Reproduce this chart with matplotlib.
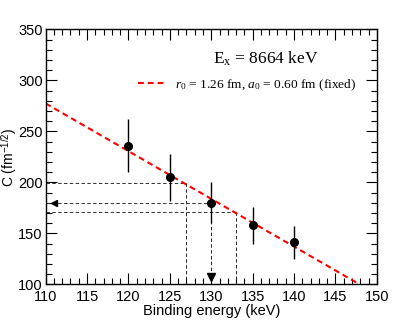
import matplotlib
matplotlib.use("Agg")
import matplotlib.pyplot as plt
from matplotlib.ticker import MultipleLocator

# Data
binding = [120, 125, 130, 135, 140]
anc = [236, 205, 180, 158, 141]
anc_err = [26, 23, 20, 18, 16]

fit_x = [110, 147.9]
fit_y = [277.4, 100]

# construction lines: (x_start, y_value, x_end)
h_lines = [(110, 199, 127), (110, 180, 130), (110, 171, 133)]
v_lines = [(127, 199, 100), (130, 180, 107), (133, 171, 100)]
arrow_left = (111, 180)
arrow_down = (130, 107)

plt.rcParams['font.family'] = ['Liberation Sans', 'DejaVu Sans']
plt.rcParams['mathtext.fontset'] = 'custom'
plt.rcParams['mathtext.rm'] = 'Liberation Serif'
plt.rcParams['mathtext.it'] = 'Liberation Serif:italic'
plt.rcParams['mathtext.sf'] = 'Liberation Sans'

fig = plt.figure(figsize=(4.15, 3.2), dpi=100)
ax = fig.add_axes([0.110, 0.1116, 0.798, 0.7964])

ax.set_xlim(110, 150)
ax.set_ylim(100, 350)

for x0, y, x1 in h_lines:
    ax.plot([x0, x1], [y, y], color='#333333', lw=0.7, dashes=(3.5, 2.5))
for x, y0, y1 in v_lines:
    ax.plot([x, x], [y0, y1], color='#222222', lw=0.7, dashes=(3.5, 2.5))
ax.plot([arrow_left[0]], [arrow_left[1]], marker='<', color='black', ms=4, lw=0)
ax.plot([arrow_down[0]], [arrow_down[1]], marker='v', color='black', ms=5.5, lw=0)

line, = ax.plot(fit_x, fit_y, color='#ff0000', lw=1.5, dashes=(2.8, 1.9),
                label=r'$r_0$ = 1.26 fm, $a_0$ = 0.60 fm (fixed)')

ax.errorbar(binding, anc, yerr=anc_err, fmt='o', color='black', ms=5.5,
            elinewidth=1.0, capsize=0, zorder=5)

ax.xaxis.set_major_locator(MultipleLocator(5))
ax.xaxis.set_minor_locator(MultipleLocator(1))
ax.yaxis.set_major_locator(MultipleLocator(50))
ax.yaxis.set_minor_locator(MultipleLocator(10))
ax.tick_params(which='both', direction='in', top=True, right=True, width=0.8,
               labelsize=10.5)
ax.tick_params(which='major', length=8)
ax.tick_params(which='minor', length=4)
ax.tick_params(axis='x', pad=4)
ax.tick_params(axis='y', pad=2)
for s in ax.spines.values():
    s.set_linewidth(1.0)

ax.set_xlabel('Binding energy (keV)', fontsize=10.5, labelpad=0)
ax.set_ylabel(r'C (fm$^{\mathsf{-1/2}}$)', fontsize=10)
ax.yaxis.set_label_coords(-0.076, 0.5)

ax.text(0.665, 0.883, r'E$_{\mathrm{x}}$ = 8664 keV', transform=ax.transAxes,
        ha='center', va='center', fontsize=12.5, family='Liberation Serif')
leg = ax.legend(handles=[line], loc='upper right', bbox_to_anchor=(0.975, 0.86),
                frameon=False, handlelength=2.2, handletextpad=0.6,
                prop={'family': 'Liberation Serif', 'size': 9.6})

fig.savefig('out.png', dpi=100)
